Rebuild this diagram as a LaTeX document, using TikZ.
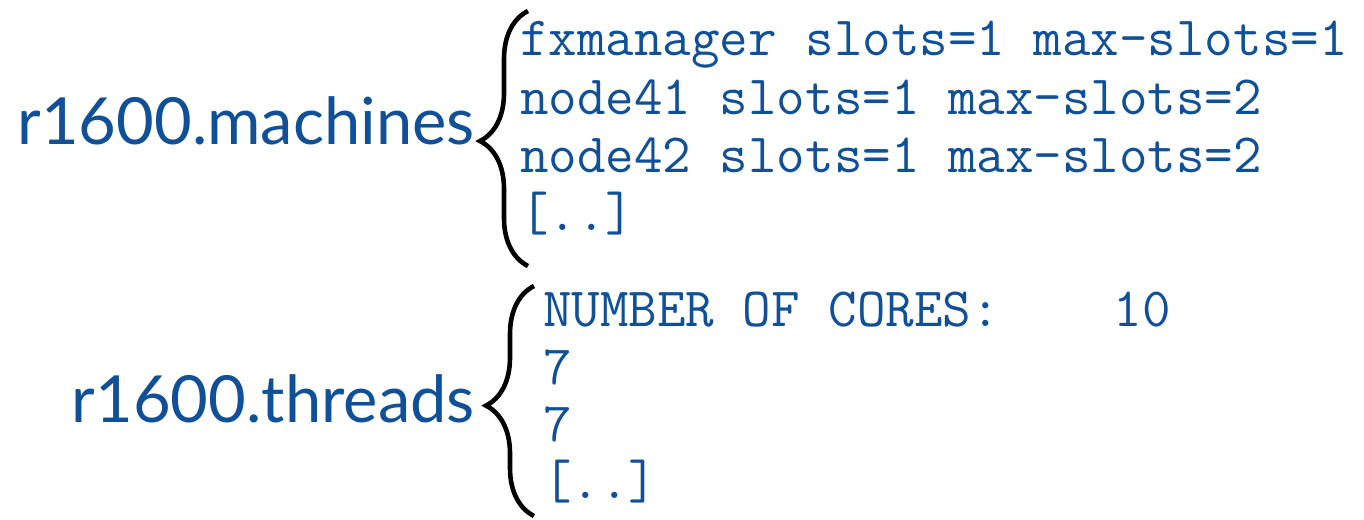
\documentclass[tikz,border=0pt]{standalone}
\usepackage{fontspec}
\setmainfont{Lato}
\usetikzlibrary{decorations.pathreplacing}
\definecolor{tblue}{RGB}{16,80,152}
\tikzset{
  lbl/.style={text=tblue, font=\fontsize{65}{72}\selectfont, inner sep=0pt, anchor=base east},
  code/.style={text=tblue, font=\ttfamily\fontsize{55.4}{60}\selectfont, inner sep=0pt, anchor=base west},
  bracestyle/.style={draw=black, line width=4.6pt, decorate, decoration={brace, amplitude=48pt, aspect=#1}},
}
\begin{document}
\begin{tikzpicture}[x=1pt,y=-1pt]
\useasboundingbox (0,0) rectangle (1364,519);
% labels
\node[lbl] (machines) at (475,144) {r1600.machines};
\node[lbl] (threads) at (475,422) {r1600.threads};
% first block
\node[code] (m1) at (520,56) {fxmanager slots=1 max-slots=1};
\node[code] (m2) at (520,114) {node41 slots=1 max-slots=2};
\node[code] (m3) at (520,172) {node42 slots=1 max-slots=2};
\node[code] (m4) at (520,230) {[..]};
% second block
\node[code] (t1) at (543,326) {NUMBER OF CORES:\ \ \ \ 10};
\node[code] (t2) at (543,384) {7};
\node[code] (t3) at (543,441) {7};
\node[code] (t4) at (543,498) {[..]};
% braces
\coordinate (b1bot) at (528,266);
\coordinate (b1top) at (528,11);
\coordinate (b2bot) at (534,516);
\coordinate (b2top) at (534,286);
\draw[bracestyle=0.49] (b1bot) -- (b1top);
\draw[bracestyle=0.48] (b2bot) -- (b2top);
\end{tikzpicture}
\end{document}
